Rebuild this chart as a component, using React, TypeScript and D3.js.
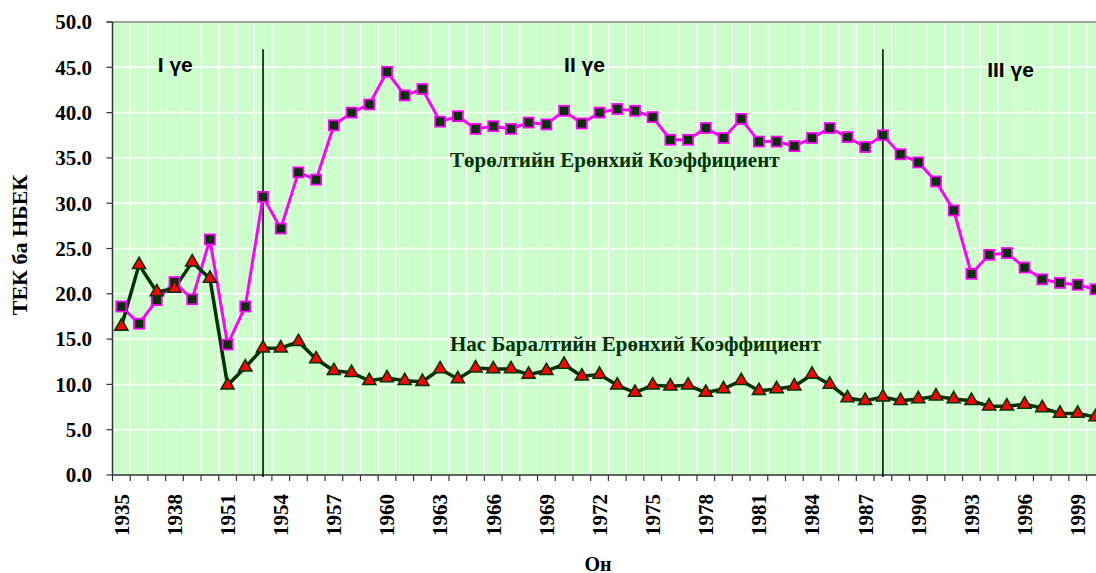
import React from 'react';
import * as d3 from 'd3';

// categories (years) - the axis is categorical, two early years are unlabeled
const years = [
  '1935', '1936', '1937', '1938', '1940', '1950',
  '1951', '1952', '1953', '1954', '1955', '1956', '1957', '1958', '1959', '1960',
  '1961', '1962', '1963', '1964', '1965', '1966', '1967', '1968', '1969', '1970',
  '1971', '1972', '1973', '1974', '1975', '1976', '1977', '1978', '1979', '1980',
  '1981', '1982', '1983', '1984', '1985', '1986', '1987', '1988', '1989', '1990',
  '1991', '1992', '1993', '1994', '1995', '1996', '1997', '1998', '1999', '2000',
];

// Төрөлтийн Ерөнхий Коэффициент (crude birth rate)
const births = [
  18.6, 16.7, 19.3, 21.3, 19.4, 26.0, 14.4, 18.6, 30.7, 27.2, 33.4, 32.6, 38.6, 40.0,
  40.9, 44.5, 41.9, 42.6, 39.0, 39.6, 38.2, 38.5, 38.2, 38.9, 38.7, 40.2, 38.8, 40.0,
  40.4, 40.2, 39.5, 37.0, 37.0, 38.3, 37.2, 39.3, 36.8, 36.8, 36.3, 37.2, 38.3, 37.3,
  36.2, 37.5, 35.4, 34.5, 32.4, 29.2, 22.2, 24.3, 24.5, 22.9, 21.6, 21.2, 21.0, 20.5,
];

// Нас Баралтийн Ерөнхий Коэффициент (crude death rate)
const deaths = [
  16.4, 23.2, 20.2, 20.6, 23.5, 21.7, 9.9, 11.9, 14.0, 14.0, 14.7, 12.8, 11.5, 11.3,
  10.4, 10.7, 10.4, 10.3, 11.7, 10.6, 11.8, 11.7, 11.7, 11.1, 11.5, 12.2, 10.9, 11.1,
  9.9, 9.1, 9.9, 9.8, 9.9, 9.1, 9.5, 10.4, 9.3, 9.5, 9.8, 11.1, 10.0, 8.5,
  8.2, 8.6, 8.2, 8.4, 8.7, 8.4, 8.2, 7.6, 7.6, 7.8, 7.4, 6.8, 6.8, 6.4,
];

const yTicks = [0, 5, 10, 15, 20, 25, 30, 35, 40, 45, 50];
const periodBreaks = ['1953', '1988'];

export default function App() {
  const W = 1096;
  const H = 573;
  const left = 112.5;
  const top = 22;
  const bottom = 475;
  const bw = 17.71;
  const right = left + bw * years.length;

  const x = d3.scaleBand<string>().domain(years).range([left, right]).padding(0);
  const xc = (c: string) => (x(c) as number) + x.bandwidth() / 2;
  const y = d3.scaleLinear().domain([0, 50]).range([bottom, top]);

  const line = d3
    .line<number>()
    .x((d, i) => xc(years[i]))
    .y((d) => y(d));

  const serif = '"Liberation Serif", "Times New Roman", serif';
  const sans = '"Liberation Sans", Arial, sans-serif';
  const dark = '#003300';

  const tri = d3.symbol().type(d3.symbolTriangle).size(75)() as string;

  return (
    <svg
      width={W}
      height={H}
      style={{ position: 'absolute', left: 0, top: 0, display: 'block' }}
    >
      <rect x={0} y={0} width={W} height={H} fill="#fff" />
      {/* plot area */}
      <rect x={left} y={top} width={right - left} height={bottom - top} fill="#ccffcc" />
      {/* vertical grid at category boundaries */}
      {years.map((c, i) =>
        i === 0 ? null : (
          <line
            key={'vg' + c}
            x1={x(c)}
            x2={x(c)}
            y1={top}
            y2={bottom}
            stroke="#fff"
            strokeWidth={1.2}
          />
        )
      )}
      {/* horizontal grid */}
      {yTicks.map((t) =>
        t === 0 || t === 50 ? null : (
          <line key={'hg' + t} x1={left} x2={right} y1={y(t)} y2={y(t)} stroke="#fff" strokeWidth={1.5} />
        )
      )}
      {/* top border */}
      <line x1={left - 6} x2={right} y1={top} y2={top} stroke="#888" strokeWidth={1.5} />
      {/* axes */}
      <line x1={left} x2={left} y1={top} y2={bottom} stroke="#333" strokeWidth={1.5} />
      <line x1={left} x2={right} y1={bottom} y2={bottom} stroke="#333" strokeWidth={1.5} />
      {yTicks.map((t) => (
        <g key={'yt' + t}>
          <line x1={left - 6} x2={left} y1={y(t)} y2={y(t)} stroke="#333" strokeWidth={1.2} />
          <text
            x={92}
            y={y(t)}
            dy="0.35em"
            textAnchor="end"
            fontFamily={serif}
            fontWeight="bold"
            fontSize={21}
            fill="#000"
          >
            {t.toFixed(1)}
          </text>
        </g>
      ))}
      {years.map((c) => (
        <line
          key={'xt' + c}
          x1={x(c)}
          x2={x(c)}
          y1={bottom}
          y2={bottom + 6}
          stroke="#333"
          strokeWidth={1.2}
        />
      ))}
      {years.map((c, i) =>
        i % 3 === 0 ? (
          <text
            key={'xl' + c}
            transform={`translate(${xc(c)},${bottom + 19}) rotate(-90)`}
            dy="0.35em"
            textAnchor="end"
            fontFamily={serif}
            fontWeight="bold"
            fontSize={21}
            fill="#000"
          >
            {c}
          </text>
        ) : null
      )}
      {/* period separators */}
      {periodBreaks.map((c) => (
        <line key={'pb' + c} x1={xc(c)} x2={xc(c)} y1={y(47)} y2={bottom + 2} stroke="#000" strokeWidth={1.5} />
      ))}
      {/* series */}
      <path d={line(births) as string} fill="none" stroke="#ff00ff" strokeWidth={3} />
      <path d={line(deaths) as string} fill="none" stroke={dark} strokeWidth={3.5} />
      {births.map((v, i) => (
        <rect
          key={'b' + i}
          x={xc(years[i]) - 5}
          y={y(v) - 5}
          width={10}
          height={10}
          fill={dark}
          stroke="#ff00ff"
          strokeWidth={1.8}
        />
      ))}
      {deaths.map((v, i) => (
        <path
          key={'d' + i}
          d={tri}
          transform={`translate(${xc(years[i])},${y(v)})`}
          fill="#ff0000"
          stroke={dark}
          strokeWidth={1.5}
        />
      ))}
      {/* period labels */}
      <text x={xc('1937') + 1} y={y(44.5)} fontFamily={sans} fontWeight="bold" fontSize={21} fill="#000">
        I үе
      </text>
      <text x={xc('1970')} y={y(44.5)} fontFamily={sans} fontWeight="bold" fontSize={21} fill="#000">
        II үе
      </text>
      <text x={xc('1994') - 2} y={y(43.9)} fontFamily={sans} fontWeight="bold" fontSize={21} fill="#000">
        III үе
      </text>
      {/* series labels */}
      <text x={450} y={y(34)} fontFamily={serif} fontWeight="bold" fontSize={21} fill={dark}>
        Төрөлтийн Ерөнхий Коэффициент
      </text>
      <text x={450} y={y(13.7)} fontFamily={serif} fontWeight="bold" fontSize={21} fill={dark}>
        Нас Баралтийн Ерөнхий Коэффициент
      </text>
      {/* axis titles */}
      <text
        transform={`translate(27,245) rotate(-90)`}
        textAnchor="middle"
        fontFamily={serif}
        fontWeight="bold"
        fontSize={22}
        fill="#000"
      >
        ТЕК ба НБЕК
      </text>
      <text x={598} y={571} textAnchor="middle" fontFamily={serif} fontWeight="bold" fontSize={20} fill="#000">
        Он
      </text>
    </svg>
  );
}
